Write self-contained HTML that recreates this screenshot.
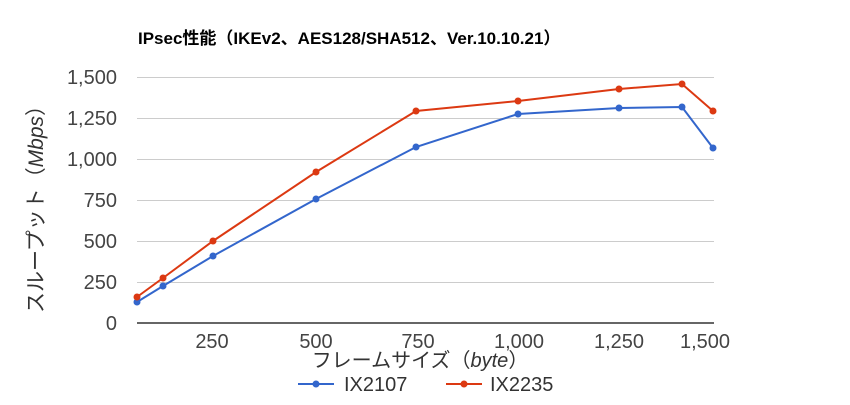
<!DOCTYPE html>
<html><head><meta charset="utf-8"><style>
body{margin:0;background:#fff}
text{font-family:"Liberation Sans","Noto Sans CJK JP",sans-serif}
</style></head><body>
<svg width="850" height="400" xmlns="http://www.w3.org/2000/svg">
<rect width="850" height="400" fill="#fff"/>
<text x="138" y="44" font-size="17" font-weight="bold" fill="#000">IPsec性能（IKEv2、AES128/SHA512、Ver.10.10.21）</text>
<g stroke="#ccc" stroke-width="1">
<line x1="137" x2="714" y1="77.5" y2="77.5"/>
<line x1="137" x2="714" y1="118.5" y2="118.5"/>
<line x1="137" x2="714" y1="159.5" y2="159.5"/>
<line x1="137" x2="714" y1="200.5" y2="200.5"/>
<line x1="137" x2="714" y1="241.5" y2="241.5"/>
<line x1="137" x2="714" y1="282.5" y2="282.5"/>
</g>
<line x1="137" x2="714" y1="323" y2="323" stroke="#333" stroke-width="1.5"/>
<g font-size="20" fill="#444" text-anchor="end">
<text x="117" y="84">1,500</text>
<text x="117" y="125">1,250</text>
<text x="117" y="166">1,000</text>
<text x="117" y="207">750</text>
<text x="117" y="248">500</text>
<text x="117" y="289">250</text>
<text x="117" y="330">0</text>
</g>
<g font-size="20" fill="#444" text-anchor="middle">
<text x="212" y="348">250</text>
<text x="316" y="348">500</text>
<text x="418" y="348">750</text>
<text x="519" y="348">1,000</text>
<text x="619" y="348">1,250</text>
<text x="705" y="348">1,500</text>
</g>
<text x="420" y="367" font-size="20" fill="#333" text-anchor="middle">フレームサイズ（<tspan font-style="italic">byte</tspan>）</text>
<text transform="translate(43,204) rotate(-90)" font-size="21" fill="#333" text-anchor="middle">スループット（<tspan font-style="italic">Mbps</tspan>）</text>
<polyline fill="none" stroke="#3366cc" stroke-width="2" points="137,302 163,286 213,256 316,199 416,147 518,114 619,108 682,107 713,148"/>
<polyline fill="none" stroke="#dc3912" stroke-width="2" points="137,297 163,278 213,241 316,172 416,111 518,101 619,89 682,84 713,111"/>
<g fill="#3366cc">
<circle cx="137" cy="302" r="3.5"/><circle cx="163" cy="286" r="3.5"/><circle cx="213" cy="256" r="3.5"/><circle cx="316" cy="199" r="3.5"/><circle cx="416" cy="147" r="3.5"/><circle cx="518" cy="114" r="3.5"/><circle cx="619" cy="108" r="3.5"/><circle cx="682" cy="107" r="3.5"/><circle cx="713" cy="148" r="3.5"/>
</g>
<g fill="#dc3912">
<circle cx="137" cy="297" r="3.5"/><circle cx="163" cy="278" r="3.5"/><circle cx="213" cy="241" r="3.5"/><circle cx="316" cy="172" r="3.5"/><circle cx="416" cy="111" r="3.5"/><circle cx="518" cy="101" r="3.5"/><circle cx="619" cy="89" r="3.5"/><circle cx="682" cy="84" r="3.5"/><circle cx="713" cy="111" r="3.5"/>
</g>
<line x1="298" x2="334" y1="384" y2="384" stroke="#3366cc" stroke-width="2"/>
<circle cx="316" cy="384" r="3.5" fill="#3366cc"/>
<text x="344" y="391" font-size="20" fill="#333">IX2107</text>
<line x1="446" x2="482" y1="384" y2="384" stroke="#dc3912" stroke-width="2"/>
<circle cx="464" cy="384" r="3.5" fill="#dc3912"/>
<text x="490" y="391" font-size="20" fill="#333">IX2235</text>
</svg>
</body></html>
